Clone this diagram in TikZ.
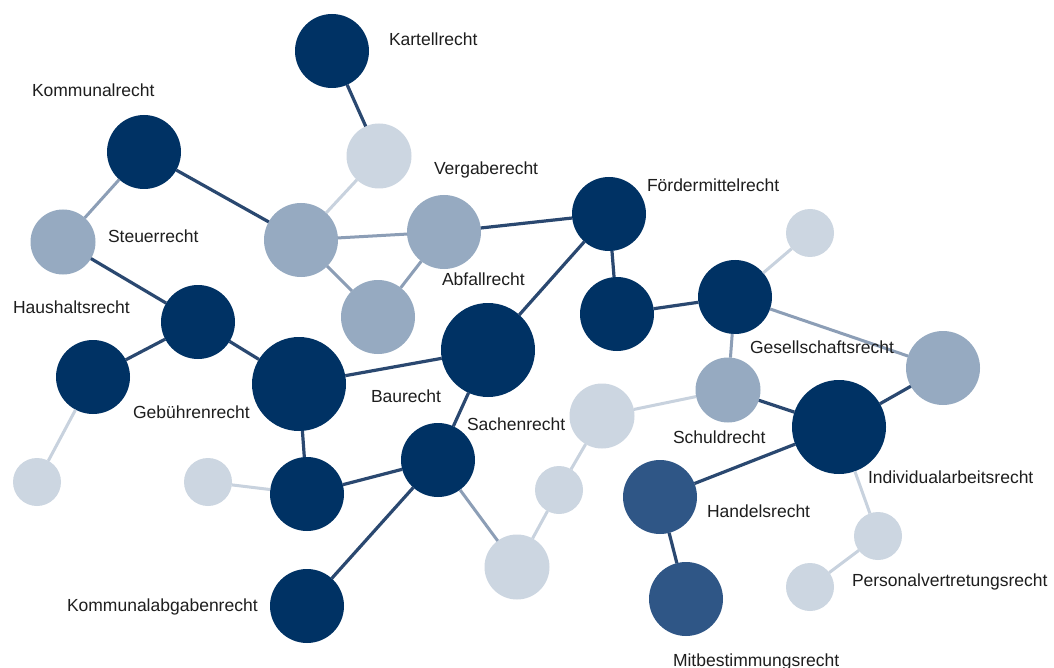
\documentclass[tikz,border=0pt]{standalone}
\usepackage{fontspec}
\setmainfont{Liberation Sans}
\definecolor{cDark}{RGB}{0,50,100}
\definecolor{cMidDark}{RGB}{47,86,134}
\definecolor{cMed}{RGB}{150,170,193}
\definecolor{cLight}{RGB}{204,214,225}
\definecolor{eDark}{RGB}{42,72,112}
\definecolor{eMid}{RGB}{140,158,182}
\definecolor{eLight}{RGB}{200,210,222}
\definecolor{cText}{RGB}{30,30,30}
\tikzset{
  ball/.style={circle, inner sep=0pt, outer sep=0pt, draw=none},
  fdark/.style={ball, fill=cDark},
  fmiddark/.style={ball, fill=cMidDark},
  fmed/.style={ball, fill=cMed},
  flight/.style={ball, fill=cLight},
  nbig/.style={minimum size=94pt},
  nstd/.style={minimum size=74pt},
  nmid/.style={minimum size=65pt},
  nsml/.style={minimum size=48pt},
  ed/.style={draw=eDark, line width=3.2pt},
  em/.style={draw=eMid, line width=3pt},
  el/.style={draw=eLight, line width=3pt},
  lbl/.style={anchor=base west, inner sep=0pt, outer sep=0pt, text=cText, font=\fontsize{17.5}{20}\selectfont},
}
\begin{document}
\begin{tikzpicture}[x=1pt,y=-1pt]
\useasboundingbox[fill=white] (0,0) rectangle (1054,668);
% circles
\node[fdark,nstd]  (n1)  at (332,51)  {};
\node[flight,nmid] (n2)  at (379,156) {};
\node[fdark,nstd]  (n3)  at (144,152) {};
\node[fmed,nmid]   (n4)  at (63,242)  {};
\node[fmed,nstd]   (n5)  at (301,240) {};
\node[fmed,nstd]   (n6)  at (444,232) {};
\node[fmed,nstd]   (n7)  at (378,317) {};
\node[fdark,nstd]  (n8)  at (609,214) {};
\node[flight,nsml] (n9)  at (810,233) {};
\node[fdark,nstd]  (n10) at (617,314) {};
\node[fdark,nstd]  (n11) at (735,297) {};
\node[fdark,nstd]  (n12) at (198,322) {};
\node[fdark,nstd]  (n13) at (93,377)  {};
\node[fdark,nbig]  (n14) at (299,384) {};
\node[fdark,nbig]  (n15) at (488,350) {};
\node[fmed,nstd]   (n16) at (943,368) {};
\node[fmed,nmid]   (n17) at (728,390) {};
\node[flight,nmid] (n18) at (602,416) {};
\node[fdark,nbig]  (n19) at (839,427) {};
\node[flight,nsml] (n20) at (37,482)  {};
\node[flight,nsml] (n21) at (208,482) {};
\node[fdark,nstd]  (n22) at (307,494) {};
\node[fdark,nstd]  (n23) at (438,460) {};
\node[flight,nsml] (n24) at (559,490) {};
\node[fmiddark,nstd] (n25) at (660,497) {};
\node[flight,nsml] (n26) at (878,536) {};
\node[flight,nmid] (n27) at (517,567) {};
\node[flight,nsml] (n28) at (810,587) {};
\node[fdark,nstd]  (n29) at (307,606) {};
\node[fmiddark,nstd] (n30) at (686,599) {};
% connectors
\draw[ed] (n1) -- (n2);
\draw[el] (n2) -- (n5);
\draw[em] (n3) -- (n4);
\draw[ed] (n3) -- (n5);
\draw[ed] (n4) -- (n12);
\draw[em] (n5) -- (n6);
\draw[em] (n5) -- (n7);
\draw[em] (n6) -- (n7);
\draw[ed] (n6) -- (n8);
\draw[ed] (n8) -- (n15);
\draw[ed] (n8) -- (n10);
\draw[ed] (n10) -- (n11);
\draw[el] (n11) -- (n9);
\draw[em] (n11) -- (n16);
\draw[em] (n11) -- (n17);
\draw[el] (n17) -- (n18);
\draw[ed] (n17) -- (n19);
\draw[ed] (n16) -- (n19);
\draw[ed] (n19) -- (n25);
\draw[el] (n19) -- (n26);
\draw[el] (n26) -- (n28);
\draw[ed] (n25) -- (n30);
\draw[ed] (n12) -- (n13);
\draw[ed] (n12) -- (n14);
\draw[el] (n13) -- (n20);
\draw[ed] (n14) -- (n15);
\draw[ed] (n14) -- (n22);
\draw[el] (n21) -- (n22);
\draw[ed] (n22) -- (n23);
\draw[ed] (n15) -- (n23);
\draw[ed] (n23) -- (n29);
\draw[em] (n23) -- (n27);
\draw[el] (n27) -- (n24);
\draw[el] (n24) -- (n18);
% labels
\node[lbl] (lKartell)   at (389,46)  {Kartellrecht};
\node[lbl] (lKommunal)  at (32,97)   {Kommunalrecht};
\node[lbl] (lVergabe)   at (434,175) {Vergaberecht};
\node[lbl] (lFoerder)   at (647,192) {Fördermittelrecht};
\node[lbl] (lSteuer)    at (108,243) {Steuerrecht};
\node[lbl] (lAbfall)    at (442,285) {Abfallrecht};
\node[lbl] (lHaushalt)  at (13,313)  {Haushaltsrecht};
\node[lbl] (lGesell)    at (750,353) {Gesellschaftsrecht};
\node[lbl] (lBau)       at (371,402) {Baurecht};
\node[lbl] (lGebuehr)   at (133,418) {Gebührenrecht};
\node[lbl] (lSachen)    at (467,430) {Sachenrecht};
\node[lbl] (lSchuld)    at (673,443) {Schuldrecht};
\node[lbl] (lIndiv)     at (868,483) {Individualarbeitsrecht};
\node[lbl] (lHandel)    at (707,517) {Handelsrecht};
\node[lbl] (lPersonal)  at (852,586) {Personalvertretungsrecht};
\node[lbl] (lKommAbg)   at (67,611)  {Kommunalabgabenrecht};
\node[lbl] (lMitbest)   at (673,666) {Mitbestimmungsrecht};
\end{tikzpicture}
\end{document}
